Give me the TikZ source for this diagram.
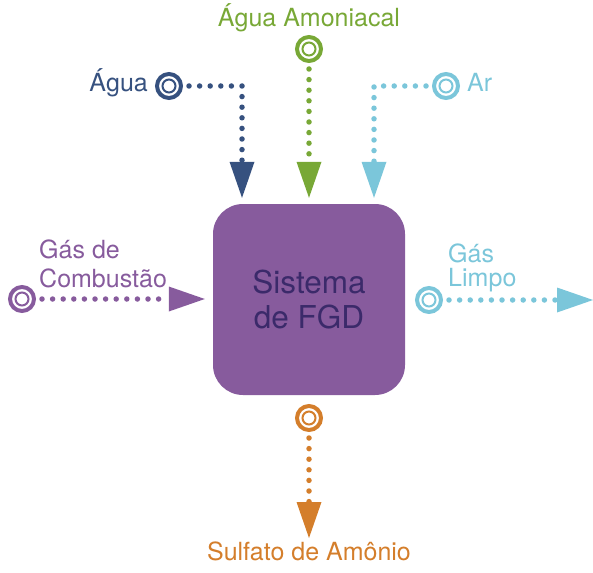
\documentclass[tikz,border=0pt]{standalone}
\usepackage{fontspec}
\setmainfont{TeX Gyre Heros}
\usetikzlibrary{arrows.meta}
\definecolor{cBlue}{HTML}{36517F}
\definecolor{cGreen}{HTML}{78A836}
\definecolor{cLight}{HTML}{7BC6DA}
\definecolor{cPurple}{HTML}{875B9D}
\definecolor{cOrange}{HTML}{D47E2B}
\definecolor{cDark}{HTML}{3B2A6A}
\begin{document}
\begin{tikzpicture}[x=1pt,y=-1pt,
  ring/.style={circle,draw=#1,line width=4pt,minimum size=24pt,inner sep=0pt,
    path picture={\draw[#1,line width=2pt] (path picture bounding box.center) circle[radius=6.5pt];}},
  flow/.style={draw=#1,line width=5.5pt,line cap=round,dash pattern=on 0pt off 10.6pt,
    shorten <=6pt,shorten >=6pt,-{Triangle[width=25pt,length=36pt,line width=0pt]}},
  lbl/.style={text=#1,font=\fontsize{25}{29}\selectfont,inner sep=0pt},
  box/.style={fill=cPurple,rounded corners=30pt,minimum width=192pt,minimum height=191pt,
    text=cDark,font=\fontsize{31.5}{35}\selectfont,align=center,inner sep=0pt}]
\useasboundingbox (0,0) rectangle (593,572);
\node[box] (fgd) at (309,299.5) {Sistema\\de FGD};
% labels
\node[lbl=cBlue,anchor=base east] (tagua) at (148,92) {Água};
\node[lbl=cGreen,anchor=base] (tamon) at (309,27) {Água Amoniacal};
\node[lbl=cLight,anchor=base west] (tar) at (467,92) {Ar};
\node[lbl=cPurple,anchor=base west,align=left] (tcomb) at (39,287) {Gás de\\Combustão};
\node[lbl=cLight,anchor=base west,align=left,font=\fontsize{25}{24}\selectfont] (tlimpo) at (448,286) {Gás\\Limpo};
\node[lbl=cOrange,anchor=base] (tsulf) at (309,560) {Sulfato de Amônio};
% rings
\node[ring=cBlue] (ragua) at (169,86) {};
\node[ring=cGreen] (ramon) at (309,49) {};
\node[ring=cLight] (rar) at (446,86) {};
\node[ring=cPurple] (rcomb) at (22,299) {};
\node[ring=cLight] (rlimpo) at (429,300) {};
\node[ring=cOrange] (rsulf) at (309,418) {};
% connectors
\coordinate (kagua) at (242,86);
\coordinate (kar) at (374,86);
\coordinate (elimpo) at (593,300);
\coordinate (esulf) at (309,538);
\draw[flow=cBlue] (ragua) -- (kagua) -- (kagua |- fgd.north);
\draw[flow=cGreen] (ramon) -- (ramon |- fgd.north);
\draw[flow=cLight] (rar) -- (kar) -- (kar |- fgd.north);
\draw[flow=cPurple,shorten >=8pt] (rcomb) -- (rcomb -| fgd.west);
\draw[flow=cLight,shorten >=0pt] (rlimpo) -- (elimpo);
\draw[flow=cOrange,shorten >=0pt] (rsulf) -- (esulf);
\end{tikzpicture}
\end{document}
